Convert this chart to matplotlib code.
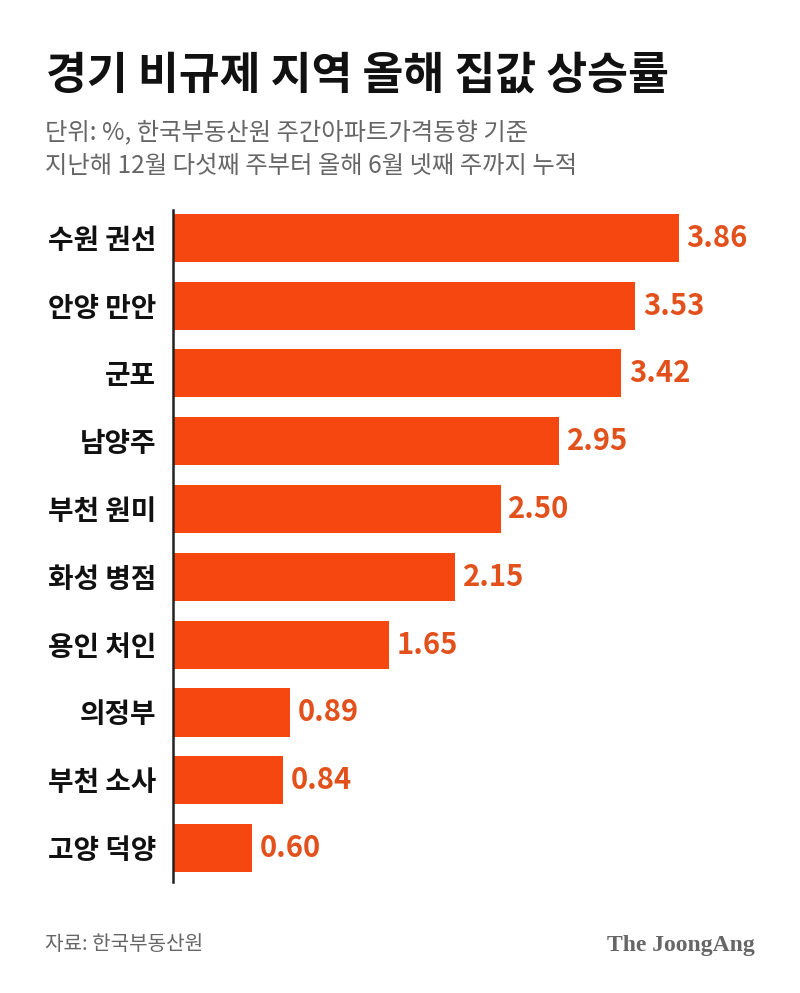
import matplotlib.pyplot as plt

plt.rcParams['font.family'] = ['Noto Sans CJK KR', 'DejaVu Sans']

# data
regions = ['수원 권선', '안양 만안', '군포', '남양주', '부천 원미',
           '화성 병점', '용인 처인', '의정부', '부천 소사', '고양 덕양']
rates = [3.86, 3.53, 3.42, 2.95, 2.50, 2.15, 1.65, 0.89, 0.84, 0.60]

title = '경기 비규제 지역 올해 집값 상승률'
subtitle = ['단위: %, 한국부동산원 주간아파트가격동향 기준',
            '지난해 12월 다섯째 주부터 올해 6월 넷째 주까지 누적']
source = '자료: 한국부동산원'
brand = 'The JoongAng'

bar_color = '#F5470F'
label_color = '#E2501C'

fig = plt.figure(figsize=(8, 9.93), dpi=100)
ax = fig.add_axes([173 / 800, 1 - 882 / 993, 627 / 800, 672 / 993])

y = list(range(len(regions)))
ax.barh(y, rates, height=0.71, color=bar_color, left=0)
ax.set_xlim(0, 627 / 131)
ax.set_ylim(9.5, -0.41)

for yi, v in zip(y, rates):
    ax.text(v + 0.06, yi, f'{v:.2f}', va='center', ha='left',
            fontsize=21, fontweight='bold', color=label_color)

ax.set_yticks(y)
ax.set_yticklabels(regions, fontsize=20, fontweight='bold', color='#111111')
ax.tick_params(axis='y', length=0, pad=12)
ax.set_xticks([])
for s in ['top', 'right', 'bottom']:
    ax.spines[s].set_visible(False)
ax.spines['left'].set_linewidth(1.8)
ax.spines['left'].set_color('#222222')

fig.text(46 / 800, 1 - 76 / 993, title, fontsize=32, fontweight='black',
         color='#111111', va='center', ha='left')
fig.text(45 / 800, 1 - 133 / 993, subtitle[0], fontsize=17.5,
         color='#666666', va='center', ha='left')
fig.text(45 / 800, 1 - 166 / 993, subtitle[1], fontsize=17.5,
         color='#666666', va='center', ha='left')
fig.text(45 / 800, 1 - 945 / 993, source, fontsize=14.5,
         color='#666666', va='center', ha='left')
fig.text(755 / 800, 1 - 945 / 993, brand, fontsize=17, fontweight='bold',
         family=['Liberation Serif', 'DejaVu Serif'],
         color='#666666', va='center', ha='right')

fig.savefig('out.png', dpi=100, facecolor='white')
